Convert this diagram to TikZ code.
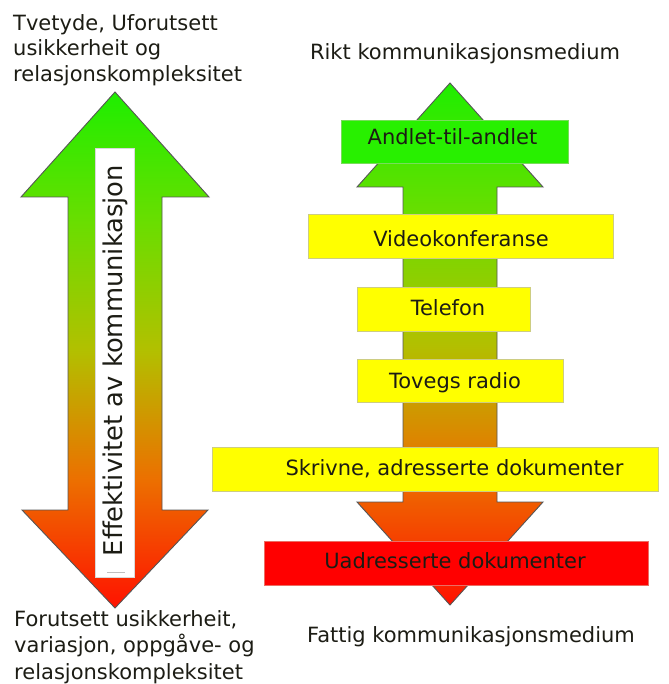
\documentclass[tikz,border=0pt]{standalone}
\usepackage{fontspec}
\setmainfont{DejaVu Sans}
\definecolor{topgreen}{RGB}{30,238,0}
\definecolor{limegreen}{RGB}{105,222,0}
\definecolor{midolive}{RGB}{178,192,0}
\definecolor{orangefade}{RGB}{236,112,0}
\definecolor{botred}{RGB}{255,18,0}
\definecolor{arrowedge}{RGB}{85,85,85}
\definecolor{boxyellow}{RGB}{255,255,0}
\definecolor{boxgreen}{RGB}{40,240,0}
\definecolor{boxred}{RGB}{255,0,0}
\definecolor{yellowedge}{RGB}{205,205,130}
\definecolor{greenedge}{RGB}{120,220,90}
\definecolor{rededge}{RGB}{235,110,100}
\definecolor{inktext}{RGB}{28,28,20}
% green at the top, red at the bottom; the path's box spans 25bp..75bp
\pgfdeclareverticalshading{meterfade}{100bp}{color(0bp)=(botred);
  color(25bp)=(botred); color(37.5bp)=(orangefade); color(50bp)=(midolive);
  color(62.5bp)=(limegreen); color(75bp)=(topgreen); color(100bp)=(topgreen)}
\begin{document}
\begin{tikzpicture}[x=1pt,y=-1pt,
  arrowbody/.style={draw=arrowedge, line width=0.9pt, line join=miter,
    shading=meterfade},
  mediumbox/.style={rectangle, inner sep=0pt, line width=0.8pt},
  ybox/.style={mediumbox, fill=boxyellow, draw=yellowedge},
  gbox/.style={mediumbox, fill=boxgreen, draw=greenedge},
  rbox/.style={mediumbox, fill=boxred, draw=rededge},
  boxtext/.style={inner sep=0pt, anchor=base, text=inktext, font=\fontsize{21}{25}\selectfont},
  sidetext/.style={inner sep=0pt, align=left, text=inktext},
]
\useasboundingbox (0,0) rectangle (668,684);

% double arrow: effectiveness of communication
\path[arrowbody] (115,92) -- (209,197) -- (162,197) -- (162,510) -- (208,510)
  -- (115,608) -- (22,510) -- (68,510) -- (68,197) -- (21,197) -- cycle;
\node[rectangle, fill=white, draw=black!15, line width=0.6pt, minimum width=39,
  minimum height=429, inner sep=0pt] (axislabel) at (115,362.5) {};
\draw[black!25, line width=1pt] (107,572) -- (125,572);
\node[inner sep=0pt, rotate=90, anchor=base, text=inktext,
  font=\fontsize{25.8}{30}\selectfont] (axistext) at (122,360.5)
  {Effektivitet av kommunikasjon};

% captions of the double arrow
\node[sidetext, anchor=north west, font=\fontsize{21}{25.5}\selectfont] (ambig) at (13,14)
  {Tvetyde, Uforutsett\\usikkerheit og\\relasjonskompleksitet};
\node[sidetext, anchor=north west, font=\fontsize{21}{26.5}\selectfont] (known) at (14,610)
  {Forutsett usikkerheit,\\variasjon, oppgåve- og\\relasjonskompleksitet};

% double arrow: richness of the medium
\path[arrowbody] (450,83) -- (543,187) -- (497,187) -- (497,502) -- (543,502)
  -- (450,605) -- (357,502) -- (403,502) -- (403,187) -- (357,187) -- cycle;

\node[boxtext] (rich) at (465,60) {Rikt kommunikasjonsmedium};
\node[boxtext] (poor) at (471,642) {Fattig kommunikasjonsmedium};

% media, from rich to poor
\node[gbox, minimum width=227, minimum height=43] (f2f) at (454.5,141.5) {};
\node[boxtext] (f2f-t) at (452.5,145) {Andlet-til-andlet};

\node[ybox, minimum width=305, minimum height=44] (video) at (460.5,236) {};
\node[boxtext] (video-t) at (461,246.5) {Videokonferanse};

\node[ybox, minimum width=173, minimum height=44] (phone) at (443.5,309) {};
\node[boxtext] (phone-t) at (448,315.5) {Telefon};

\node[ybox, minimum width=206, minimum height=43] (radio) at (460,380.5) {};
\node[boxtext] (radio-t) at (455,388.3) {Tovegs radio};

\node[ybox, minimum width=446, minimum height=44] (written) at (435,469) {};
\node[boxtext] (written-t) at (454.5,475) {Skrivne, adresserte dokumenter};

\node[rbox, minimum width=384, minimum height=44] (unaddr) at (456,563) {};
\node[boxtext] (unaddr-t) at (455,568.3) {Uadresserte dokumenter};
\end{tikzpicture}
\end{document}
